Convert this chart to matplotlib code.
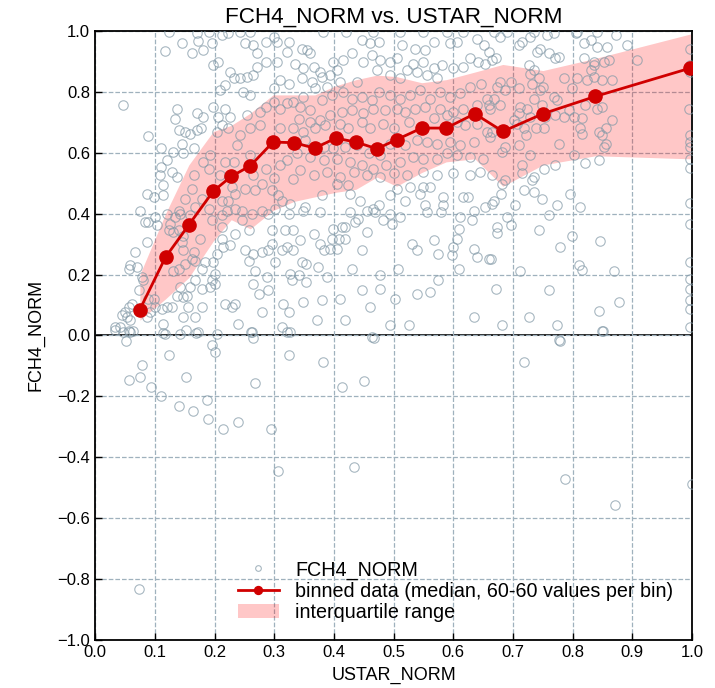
import numpy as np
import matplotlib
matplotlib.use("Agg")
import matplotlib.pyplot as plt

plt.rcParams['font.family'] = ['Liberation Sans', 'DejaVu Sans']

# ---- binned medians and interquartile range ----
bin_x = [0.075, 0.118, 0.157, 0.198, 0.228, 0.260, 0.298, 0.333, 0.368, 0.403,
         0.437, 0.472, 0.505, 0.547, 0.588, 0.636, 0.683, 0.750, 0.838, 0.997]
bin_median = [0.085, 0.257, 0.363, 0.474, 0.522, 0.557, 0.635, 0.633, 0.615, 0.648,
              0.635, 0.613, 0.643, 0.681, 0.681, 0.728, 0.670, 0.728, 0.785, 0.878]
bin_q75 = [0.20, 0.40, 0.56, 0.67, 0.69, 0.73, 0.79, 0.79, 0.79, 0.82,
           0.84, 0.855, 0.85, 0.83, 0.84, 0.865, 0.89, 0.87, 0.91, 0.99]
bin_q25 = [0.05, 0.12, 0.19, 0.31, 0.38, 0.35, 0.41, 0.44, 0.455, 0.47,
           0.48, 0.52, 0.49, 0.535, 0.57, 0.58, 0.49, 0.56, 0.59, 0.58]

# ---- raw scatter (USTAR_NORM, FCH4_NORM) ----
ustar = [
    # low ustar, lower half of the positive range
    .087, .098, .114, .114, .075, .084, .089, .100, .103, .120, .087, .067, .059, .056, .070,
    .078, .073, .081, .061, .056, .050, .045, .053, .059, .034, .042, .056, .064, .047, .087,
    .092, .100, .112, .120, .128, .137, .148, .154, .159, .142, .114, .117, .089, .098, .131,
    .140, .151, .162, .168, .165, .148, .145, .179, .184, .179, .193, .195, .201, .198, .204,
    .215, .212, .226, .201, .168, .179, .156, .148, .168, .218, .229, .235, .240, .173, .204,
    .142, .262, .279, .274, .265, .268, .265, .251, .257, .279, .290, .296, .296, .302, .288,
    .290, .315, .324, .327, .313, .327, .313, .321, .318, .324, .327, .313, .302, .290, .279,
    .262, .246, .235, .223, .221, .212, .212, .179, .168, .151, .140, .134, .126, .123, .131,
    .142, .159, .190, .195, .176, .148, .140, .212, .235, .257, .246, .268, .251, .279, .296,
    .307, .229, .162, .235,
    # low ustar, upper half
    .047, .089, .117, .145, .162, .173, .181, .195, .212, .198, .206, .226, .232, .243, .254,
    .265, .271, .251, .265, .271, .287, .304, .299, .321, .324, .287, .304, .310, .324, .299,
    .218, .209, .248, .259, .137, .134, .170, .181, .140, .151, .159, .170, .178, .198, .206,
    .218, .226, .212, .223, .204, .111, .131, .145, .148, .165, .120, .111, .128, .109, .137,
    .165, .181, .192, .243, .259, .254, .276, .287, .299, .310, .321, .276, .310, .259, .265,
    .237, .232, .287, .310, .321, .299, .218, .209, .190,
    .123, .170, .190, .223, .243, .259,
    # middle ustar, upper half
    .355, .360, .346, .335, .349, .366, .377, .346, .363, .380, .394, .405, .399, .416, .430,
    .447, .461, .475, .464, .477, .449, .472, .494, .505, .514, .536, .553, .567, .595, .606,
    .640, .651, .628, .642, .653, .617, .600, .581, .567, .550, .533, .522, .539, .556, .572,
    .494, .511, .438, .410, .388, .368, .349, .332, .343, .360, .380, .396, .416, .430, .447,
    .464, .475, .494, .511, .528, .544, .561, .578, .595, .611, .628, .647, .656, .639, .617,
    .600, .578, .553, .536, .519, .505, .486, .466, .449, .430, .413, .394, .377, .360, .341,
    .332, .349, .368, .385, .410, .424, .447, .461, .483, .500, .525, .567, .589, .606, .620,
    .639, .656, .634, .612, .595, .572, .556, .539, .519, .494, .477, .458, .438, .419, .399,
    .383, .352, .338, .360, .383, .405, .427, .447, .466, .488, .511, .533, .550, .572, .589,
    .606, .628, .650, .645, .628, .600, .572, .550, .522, .500, .477, .455, .433, .410, .388,
    .366, .343, .332,
    .382, .421, .466, .511, .550, .589, .617,
    # high ustar, upper half
    .679, .715, .710, .729, .746, .740, .757, .768, .760, .771, .777, .805, .819, .830, .841,
    .858, .872, .891, .908, .819, .835, .830, .835, .852, .860, .726, .735, .665, .671, .659,
    .679, .673, .687, .696, .710, .668, .679, .662, .729, .743, .746, .732, .751, .785, .807,
    .824, .835, .849, .866, .799, .768, .774, .749, .735, .712, .724, .710, .729, .701, .707,
    .718, .738, .754, .771, .785, .802, .816, .793, .821, .849, .841, .866, .855, .844, .849,
    .855, .852, .813, .816, .752, .659, .665, .662, .687, .682, .710, .721, .729, .777, .802,
    .821, .844, .771, .752, .715, .715, .665, .687, .735, .997, .997, .997, .994, .997, .997,
    .997, .997, .997,
    .668, .690, .735, .807, .841,
    # middle ustar, lower half of the positive range
    .332, .343, .332, .349, .352, .366, .377, .383, .394, .405, .396, .408, .419, .399, .413,
    .419, .435, .441, .427, .444, .427, .424, .405, .380, .377, .455, .466, .469, .475, .483,
    .494, .497, .511, .494, .505, .519, .528, .544, .550, .561, .553, .556, .583, .583, .580,
    .617, .625, .634, .611, .631, .653, .609, .606, .600, .597, .634, .639, .659, .567, .575,
    .530, .539, .455, .447, .430, .508, .477, .609, .575, .561, .539, .502, .477, .447, .461,
    .410, .380, .349, .374, .388, .354, .346, .354, .341, .329, .371, .419, .494, .525, .634,
    .463,
    # high ustar, lower half of the positive range
    .682, .668, .665, .680, .704, .718, .735, .749, .732, .760, .774, .796, .813, .690, .696,
    .673, .673, .743, .799, .779, .845, .663, .712, .810, .815, .869, .672, .760, .877, .844,
    .726, .682, .774, .849, .777, .996, .996, .996, .996, .996, .996, .996, .996,
    # negative values
    .051, .033, .059, .114, .153, .169, .195, .201, .124, .079, .057, .075, .153, .094, .111,
    .140, .164, .188, .189, .215, .240, .267, .264, .261, .294, .306, .322, .324, .382, .414,
    .451, .433, .467, .719, .778, .787, .851, .871, .999, .074,
]
fch4 = [
    .465, .454, .493, .460, .410, .372, .372, .389, .361, .400, .306, .274, .230, .219, .224,
    .192, .148, .181, .104, .093, .077, .066, .060, .049, .027, .027, .016, .016, .011, .060,
    .077, .093, .088, .093, .093, .131, .126, .131, .159, .159, .038, .005, .120, .120, .213,
    .219, .235, .252, .246, .274, .279, .306, .219, .241, .153, .159, .181, .170, .241, .268,
    .290, .317, .296, .202, .181, .093, .093, .060, .060, .104, .093, .104, .038, .011, .005,
    .005, .011, .077, .137, .170, .213, .268, .279, .246, .274, .279, .301, .345, .241, .192,
    .148, .104, .077, .011, .027, .202, .279, .290, .345, .400, .432, .443, .416, .400, .410,
    .400, .410, .416, .443, .410, .394, .443, .449, .421, .449, .410, .389, .367, .345, .339,
    .400, .394, .416, .378, .317, .328, .345, .356, .334, .345, .378, .476, .482, .498, .476,
    .460, .487, .482, .465,
    .756, .656, .934, .962, .929, .967, .937, .962, .986, .888, .899, .866, .844, .846, .849,
    .855, .882, .959, .953, .926, .964, .964, .981, .931, .964, .899, .899, .838, .827, .811,
    .822, .806, .800, .789, .745, .712, .729, .718, .674, .669, .663, .674, .680, .751, .718,
    .745, .718, .691, .680, .669, .614, .603, .630, .598, .614, .576, .554, .538, .527, .521,
    .527, .570, .592, .658, .680, .724, .734, .751, .767, .745, .762, .691, .680, .592, .527,
    .625, .570, .548, .559, .576, .516, .570, .527, .548,
    .995, .992, .995, .992, .995, .997,
    .937, .929, .942, .893, .877, .882, .866, .844, .833, .849, .855, .871, .899, .904, .926,
    .970, .959, .964, .920, .904, .899, .871, .899, .910, .953, .942, .937, .964, .959, .964,
    .975, .953, .910, .899, .893, .882, .877, .888, .877, .899, .893, .871, .866, .855, .844,
    .855, .844, .833, .833, .816, .811, .784, .767, .751, .740, .773, .789, .800, .778, .784,
    .773, .800, .789, .778, .789, .806, .778, .800, .784, .795, .816, .827, .778, .756, .745,
    .734, .745, .751, .745, .734, .745, .740, .745, .729, .740, .734, .724, .707, .701, .712,
    .680, .669, .680, .691, .696, .680, .702, .680, .696, .680, .702, .713, .724, .702, .691,
    .696, .669, .636, .625, .636, .630, .636, .641, .625, .630, .592, .598, .625, .619, .614,
    .619, .641, .598, .587, .576, .581, .570, .559, .548, .559, .570, .587, .581, .581, .598,
    .592, .587, .581, .537, .526, .532, .526, .537, .526, .532, .521, .526, .537, .521, .537,
    .526, .543, .515,
    .995, .995, .995, .995, .995, .995, .995,
    .981, .964, .953, .981, .942, .931, .986, .992, .926, .910, .915, .992, .959, .970, .948,
    .948, .986, .953, .904, .910, .899, .871, .888, .899, .904, .888, .871, .904, .910, .931,
    .833, .816, .806, .833, .811, .778, .756, .745, .860, .844, .806, .827, .816, .844, .844,
    .838, .849, .838, .838, .811, .784, .773, .756, .778, .751, .745, .729, .718, .707, .696,
    .680, .680, .718, .724, .718, .718, .713, .740, .756, .751, .745, .707, .680, .669, .658,
    .630, .619, .680, .663, .680, .756, .669, .652, .619, .603, .625, .658, .592, .630, .592,
    .565, .576, .559, .548, .559, .532, .526, .510, .521, .942, .888, .866, .745, .658, .636,
    .620, .581, .549,
    .995, .995, .995, .995, .995,
    .345, .312, .279, .410, .421, .334, .301, .279, .285, .285, .317, .317, .317, .350, .356,
    .356, .372, .383, .405, .443, .465, .493, .498, .460, .405, .410, .416, .405, .427, .378,
    .400, .367, .389, .460, .482, .443, .487, .465, .487, .487, .427, .405, .454, .427, .405,
    .454, .454, .410, .389, .378, .421, .350, .317, .290, .263, .285, .257, .252, .312, .268,
    .301, .279, .339, .279, .219, .219, .197, .219, .181, .142, .137, .120, .153, .148, .093,
    .120, .115, .109, .224, .192, .235, .241, .175, .197, .181, .049, .049, .033, .033, .060,
    -.006,
    .498, .443, .432, .465, .427, .476, .471, .449, .509, .394, .427, .465, .421, .389, .361,
    .356, .336, .345, .328, .292, .309, .252, .213, .230, .216, .213, .153, .148, .109, .080,
    .060, .033, .033, .016, -.014, .435, .367, .241, .186, .153, .115, .088, .027,
    -.018, .018, .012, .009, .018, .007, -.032, -.054, -.065, -.096, -.147, -.138, -.136, -.171, -.200,
    -.233, -.249, -.213, -.276, -.309, -.285, -.155, -.007, .012, -.308, -.447, .012, -.066, -.086, -.169,
    -.151, -.433, -.007, -.086, -.018, -.471, .014, -.557, -.488, -.834,
]

x_ticks = [0.0, 0.1, 0.2, 0.3, 0.4, 0.5, 0.6, 0.7, 0.8, 0.9, 1.0]
y_ticks = [-1.0, -0.8, -0.6, -0.4, -0.2, 0.0, 0.2, 0.4, 0.6, 0.8, 1.0]

fig = plt.figure(figsize=(7.15, 6.88), dpi=100)
ax = fig.add_axes([0.133, 0.070, 0.835, 0.885])

ax.grid(True, linestyle='--', color='#9fb1bd', linewidth=0.9, zorder=0)
ax.axhline(0, color='black', linewidth=1.2, zorder=1)

ax.fill_between(bin_x, bin_q25, bin_q75, color='#ff0000', alpha=0.22,
                linewidth=0, zorder=2, label='interquartile range')
ax.plot(ustar, fch4, 'o', linestyle='none', markersize=6.8, markerfacecolor='none',
        markeredgecolor='#8299a7', markeredgewidth=0.8, alpha=0.7, zorder=3,
        label='FCH4_NORM')
ax.plot(bin_x, bin_median, 'o-', color='#d00000', linewidth=2, markersize=9.5,
        zorder=4, label='binned data (median, 60-60 values per bin)')

ax.set_xlim(0, 1)
ax.set_ylim(-1, 1)
ax.set_xticks(x_ticks)
ax.set_yticks(y_ticks)
ax.tick_params(direction='in', labelsize=12, length=5, width=1)
for sp in ax.spines.values():
    sp.set_linewidth(1.3)

ax.set_title('FCH4_NORM vs. USTAR_NORM', fontsize=16.2, pad=6)
ax.set_xlabel('USTAR_NORM', fontsize=13, labelpad=5)
ax.set_ylabel('FCH4_NORM', fontsize=13, labelpad=9)

h, l = ax.get_legend_handles_labels()
order = [1, 2, 0]
ax.legend([h[i] for i in order], [l[i] for i in order], loc='lower right',
          bbox_to_anchor=(0.968, 0.03), frameon=False, fontsize=14.2,
          handlelength=2.1, handletextpad=0.8, labelspacing=0.1,
          borderaxespad=0, borderpad=0, markerscale=0.6)

fig.savefig('out.png', dpi=100)
